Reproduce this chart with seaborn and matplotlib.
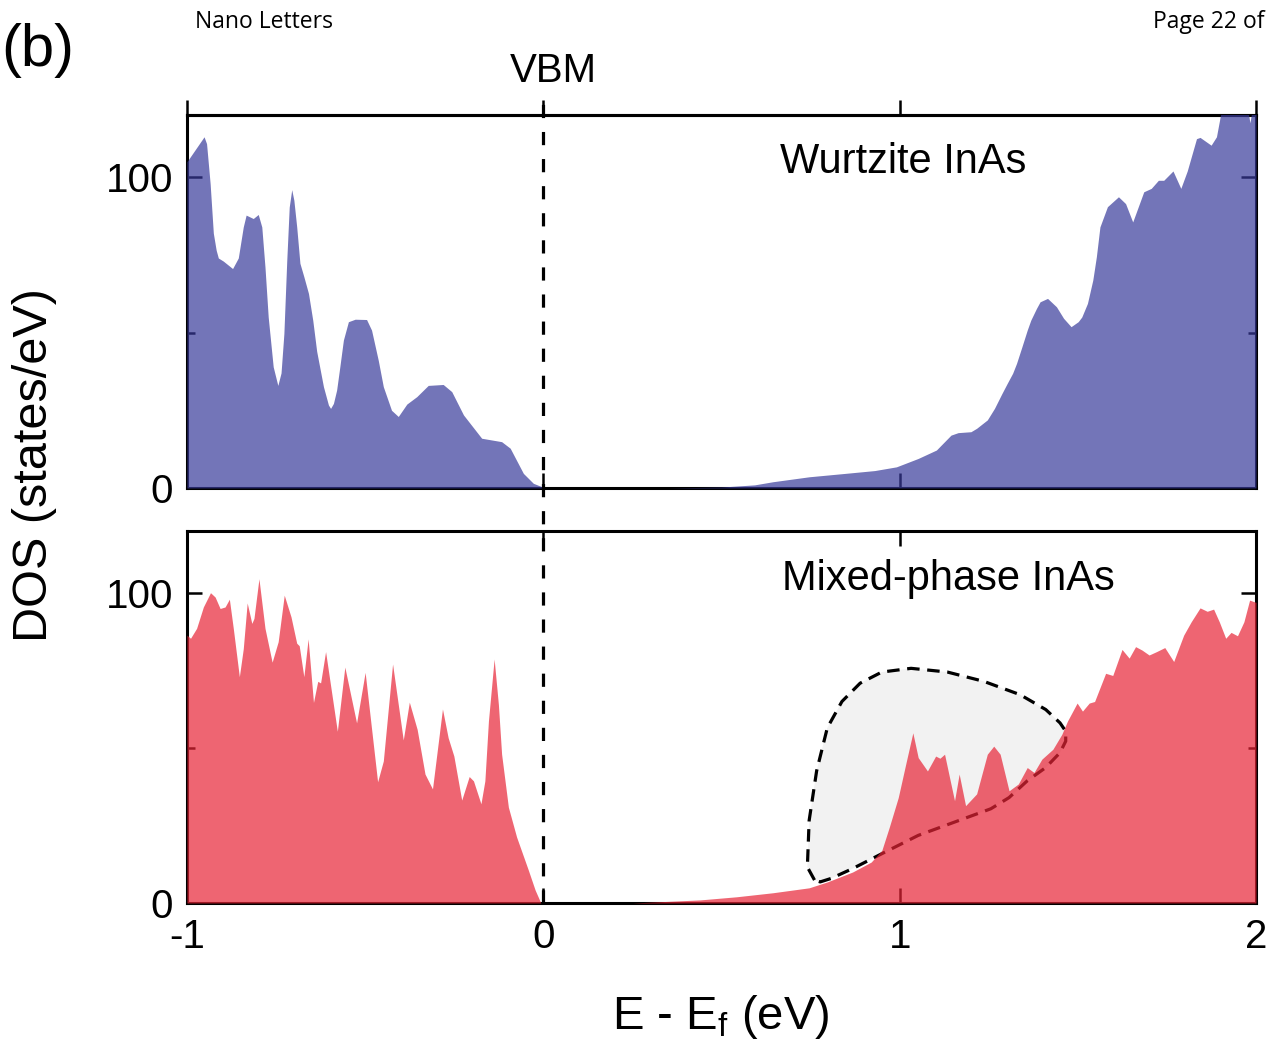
import numpy as np
import pandas as pd
import seaborn as sns
import matplotlib
matplotlib.use("Agg")
import matplotlib.pyplot as plt

# ---------------- data ----------------
wz_E = [-1.0, -0.976, -0.952, -0.945, -0.935, -0.926, -0.918, -0.912, -0.898, -0.872,
        -0.856, -0.842, -0.834, -0.823, -0.814, -0.800, -0.790, -0.781, -0.772, -0.758,
        -0.745, -0.736, -0.728, -0.720, -0.713, -0.706, -0.700, -0.692, -0.683, -0.672,
        -0.659, -0.647, -0.636, -0.617, -0.603, -0.597, -0.589, -0.580, -0.571, -0.561,
        -0.547, -0.528, -0.496, -0.482, -0.463, -0.449, -0.426, -0.407, -0.383, -0.355,
        -0.323, -0.281, -0.257, -0.224, -0.173, -0.117, -0.093, -0.056, -0.028, -0.004,
        0.0, 0.35, 0.50, 0.593, 0.644, 0.746, 0.848, 0.930, 0.991, 1.052,
        1.103, 1.144, 1.164, 1.200, 1.216, 1.246, 1.266, 1.287, 1.302, 1.317,
        1.328, 1.343, 1.358, 1.368, 1.384, 1.394, 1.415, 1.440, 1.460, 1.481,
        1.501, 1.511, 1.527, 1.542, 1.552, 1.562, 1.583, 1.614, 1.634, 1.654,
        1.685, 1.706, 1.726, 1.741, 1.767, 1.789, 1.807, 1.833, 1.843, 1.874,
        1.889, 1.902, 1.975, 1.983, 1.991, 2.0]
wz_DOS = [105, 109, 113, 110.8, 98, 82, 76.5, 74, 73, 70.6,
          74, 84, 87.8, 87.2, 86.7, 88, 84, 71, 55, 39,
          33, 37, 49.7, 73, 90.4, 96, 92.6, 84, 72.3, 68,
          62.6, 54, 44, 32.6, 26.7, 25.6, 27.2, 31.5, 39, 47.6,
          53.5, 54.3, 54.2, 50.8, 41, 32.6, 25, 23, 27, 29.4,
          33, 33.3, 31, 23.5, 16, 14.9, 12.8, 4.7, 1.5, 0.4,
          0.0, 0.0, 0.3, 1.0, 2.0, 3.6, 4.7, 5.6, 6.8, 9.5,
          12.2, 17, 17.8, 18.1, 19.2, 21.9, 25.6, 30.4, 33.7, 36.9,
          40.1, 45.4, 50.8, 54, 57.8, 59.9, 61, 58.3, 54.6, 51.9,
          53.5, 55, 59.4, 66.9, 74.4, 84, 90.5, 93.7, 91.5, 85.6,
          95.3, 96.4, 99, 99, 102, 96.4, 102, 112.4, 112.8, 110.3,
          113, 121, 123, 117.5, 123, 123]

mx_E = [-1.0, -0.990, -0.973, -0.954, -0.934, -0.921, -0.907, -0.893, -0.881, -0.870,
        -0.853, -0.842, -0.831, -0.818, -0.812, -0.798, -0.781, -0.761, -0.744, -0.727,
        -0.708, -0.692, -0.685, -0.672, -0.660, -0.645, -0.633, -0.625, -0.611, -0.578,
        -0.557, -0.524, -0.500, -0.465, -0.449, -0.423, -0.393, -0.376, -0.354, -0.332,
        -0.311, -0.283, -0.267, -0.251, -0.229, -0.208, -0.196, -0.175, -0.164, -0.154,
        -0.138, -0.126, -0.117, -0.098, -0.075, -0.042, -0.023, -0.007,
        0.0, 0.25, 0.44, 0.542, 0.644, 0.746, 0.797, 0.868, 0.920, 0.950,
        0.971, 0.996, 1.017, 1.037, 1.052, 1.078, 1.101, 1.113, 1.126, 1.142,
        1.154, 1.167, 1.185, 1.216, 1.246, 1.264, 1.282, 1.307, 1.333, 1.358,
        1.377, 1.399, 1.430, 1.455, 1.471, 1.498, 1.513, 1.532, 1.547, 1.578,
        1.598, 1.624, 1.644, 1.662, 1.680, 1.700, 1.721, 1.744, 1.769, 1.797,
        1.818, 1.843, 1.863, 1.881, 1.897, 1.915, 1.930, 1.948, 1.966, 1.982,
        1.997, 2.0]
mx_DOS = [86.4, 85.4, 88.6, 95.5, 100.1, 98.7, 95, 95.5, 98, 88.6,
          73, 82, 96.8, 90.2, 91.8, 104.6, 88.6, 77.7, 84.3, 99.3,
          92.3, 83.8, 83, 73, 85.2, 64.7, 71.5, 71, 81.1, 55.4,
          76.1, 58.1, 74.4, 39.1, 45.8, 77.1, 52.6, 64.8, 56, 41.6,
          36.8, 62.6, 53.3, 47.4, 33.2, 40.8, 39.4, 32, 39.4, 58.7,
          78.7, 64, 48, 30.9, 21.3, 10.6, 4.2, 0.0,
          0.0, 0.0, 1.0, 2.0, 3.3, 4.9, 6.8, 10, 13.2, 17,
          24.5, 34, 44.8, 54.9, 46.9, 42.6, 47.4, 46.7, 48, 39.4,
          33, 41.6, 31.4, 35.2, 48, 50.6, 48, 36.2, 38.4, 43.7,
          42.1, 46.4, 49.6, 54.4, 58.7, 64.5, 61.9, 64.5, 65, 74.1,
          73.4, 81.8, 79, 82.7, 81.6, 80, 81.1, 82.4, 77.9, 86.4,
          90.7, 95.2, 94.1, 94.8, 90.7, 85.4, 87.3, 86.2, 90.7, 97.7,
          97.1, 97]

# highlighted region outline (gray blob)
blob_E = [0.761, 0.741, 0.746, 0.767, 0.797, 0.838, 0.889, 0.950, 1.032, 1.134,
          1.236, 1.338, 1.410, 1.450, 1.466, 1.466, 1.450, 1.410, 1.358, 1.307,
          1.256, 1.154, 1.052, 0.950, 0.868, 0.807, 0.777, 0.761]
blob_DOS = [7.4, 11.6, 26.6, 42.6, 56.5, 65, 70.9, 74.5, 75.7, 74.5,
            71.5, 67.2, 62.4, 58.1, 55.4, 52.2, 48.5, 43.7, 39.4, 34,
            30.4, 26.1, 21.8, 15.9, 11.1, 7.9, 6.8, 7.4]

x_ticks = [-1, 0, 1, 2]
x_ticklabels = ["-1", "0", "1", "2"]
y_ticks = [0, 100]
y_minor = [50]
panel_titles = ["Wurtzite InAs", "Mixed-phase InAs"]

# ---------------- styling ----------------
sns.set_theme(style="ticks")
plt.rcParams["font.family"] = ["Liberation Sans", "DejaVu Sans"]
plt.rcParams["mathtext.fontset"] = "custom"
plt.rcParams["mathtext.rm"] = "Liberation Sans"
plt.rcParams["mathtext.it"] = "Liberation Sans:italic"
plt.rcParams["axes.unicode_minus"] = False
plt.rcParams["lines.scale_dashes"] = False
plt.rcParams["text.color"] = "black"
plt.rcParams["axes.labelcolor"] = "black"
plt.rcParams["xtick.color"] = "black"
plt.rcParams["ytick.color"] = "black"

blue = (0.221, 0.227, 0.603)
red = (0.904, 0.143, 0.21)
ALPHA = 0.7

fig = plt.figure(figsize=(12.71, 10.42), dpi=100)
ax1 = fig.add_axes([0.1471, 0.5317, 0.8411, 0.3579])
ax2 = fig.add_axes([0.1471, 0.1334, 0.8411, 0.3570])
ax2.patch.set_visible(False)

df_wz = pd.DataFrame({"E": wz_E, "DOS": wz_DOS})
df_mx = pd.DataFrame({"E": mx_E, "DOS": mx_DOS})

for ax, df, col in ((ax1, df_wz, blue), (ax2, df_mx, red)):
    sns.lineplot(data=df, x="E", y="DOS", ax=ax, color=col, alpha=ALPHA,
                 linewidth=0, estimator=None, sort=False, zorder=3)
    ax.fill_between(df["E"], 0, df["DOS"], color=col, alpha=ALPHA, lw=0, zorder=3)

# gray highlighted region with dashed outline (beneath the translucent fill)
ax2.fill(blob_E, blob_DOS, color="#F2F2F2", lw=0, zorder=1.5)
ax2.plot(blob_E, blob_DOS, color="black", lw=2.3, dashes=(9, 5.5), zorder=2,
         dash_capstyle="butt")

for ax in (ax1, ax2):
    ax.set_xlim(-1, 2)
    ax.set_ylim(0, 120)
    ax.set_xticks(x_ticks)
    ax.set_yticks(y_ticks)
    ax.set_yticks(y_minor, minor=True)
    ax.set_xlabel("")
    ax.set_ylabel("")
    ax.tick_params(axis="both", which="major", direction="in", length=11, width=1.8,
                   labelsize=29, left=True, right=True, bottom=True, top=True,
                   color="black", labelcolor="black")
    ax.tick_params(axis="y", which="minor", direction="in", length=6, width=1.8,
                   left=True, right=True, color="black")
    ax.tick_params(axis="x", which="minor", bottom=False, top=False)
    ax.tick_params(axis="y", which="major", pad=10)
    for s in ax.spines.values():
        s.set_visible(True)
        s.set_linewidth(2.2)
        s.set_color("black")
    ax.grid(False)

ax1.tick_params(axis="x", labelbottom=False, top=False)
sec = ax1.secondary_xaxis("top")
sec.set_xticks(x_ticks)
sec.set_xticklabels([])
sec.tick_params(direction="out", length=11, width=1.8, color="black")
sec.spines["top"].set_linewidth(2.2)
sec.spines["top"].set_color("black")

ax2.set_xticklabels(x_ticklabels)
ax2.tick_params(axis="x", which="major", pad=11)

# VBM dashed line spanning both panels
ax1.axvline(0, ymin=-1.113, ymax=1.04, color="black", lw=2.3, dashes=(9.5, 10),
            clip_on=False, zorder=4)
ax1.text(0.029, 130.5, "VBM", ha="center", va="baseline", fontsize=29,
         clip_on=False)

ax1.text(0.665, 101.3, panel_titles[0], ha="left", va="baseline", fontsize=30, zorder=5)
ax2.text(0.670, 101.0, panel_titles[1], ha="left", va="baseline", fontsize=30, zorder=5)

fig.text(35 / 1271, 0.554, "DOS (states/eV)", rotation=90, ha="center", va="center",
         fontsize=35)
fig.text(721 / 1271, 1 - 1029 / 1042, r"E - E$_\mathrm{f}$ (eV)", ha="center",
         va="baseline", fontsize=34)

fig.text(0.001, 0.952, "(b)", ha="left", va="center", fontsize=43)
fig.text(195 / 1271, 1 - 28 / 1042, "Nano Letters", ha="left", va="baseline",
         fontsize=16.5, family=["Open Sans", "DejaVu Sans"])
fig.text(1153 / 1271, 1 - 28 / 1042, "Page 22 of", ha="left", va="baseline",
         fontsize=16.5, family=["Open Sans", "DejaVu Sans"])

fig.savefig("out.png", dpi=100)
